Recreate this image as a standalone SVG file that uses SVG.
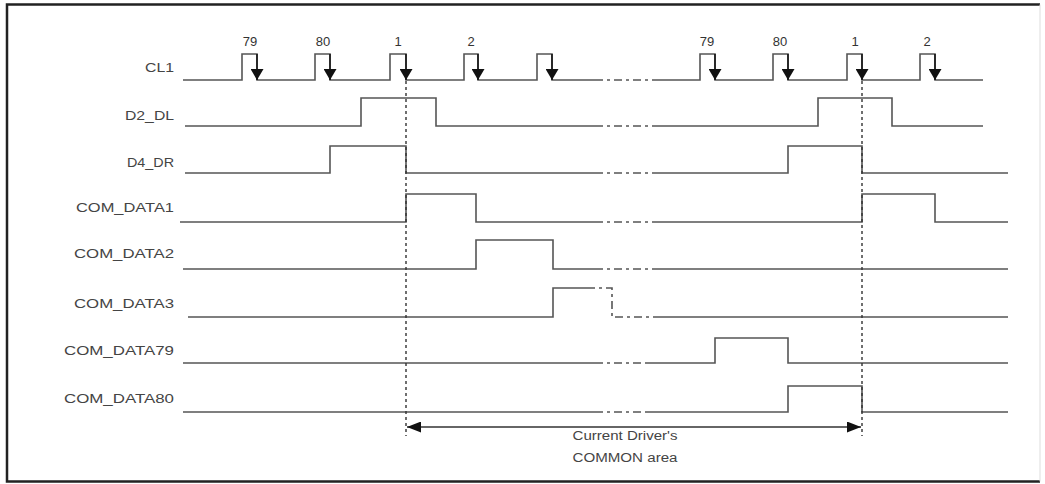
<svg xmlns="http://www.w3.org/2000/svg" width="1045" height="484" viewBox="0 0 1045 484">
<style>
.frame{fill:none;stroke:#222;stroke-width:2.5}
.sig{fill:none;stroke:#555;stroke-width:1.6;stroke-linejoin:miter}
.brk{fill:none;stroke:#555;stroke-width:1.6;stroke-dasharray:8 4 3 4}
.guide{fill:none;stroke:#333;stroke-width:1.4;stroke-dasharray:3 3}
.clkl{fill:none;stroke:#111;stroke-width:1.5}
.lbl{font-family:"Liberation Sans",Arial,sans-serif;font-size:13px;fill:#444;text-anchor:end}
.num{font-family:"Liberation Sans",Arial,sans-serif;font-size:13px;fill:#333;text-anchor:middle}
.note{font-family:"Liberation Sans",Arial,sans-serif;font-size:12.5px;fill:#444;text-anchor:middle}
</style>
<defs>
<marker id="clk" markerWidth="11" markerHeight="13" refX="11" refY="6.5" orient="auto" markerUnits="userSpaceOnUse">
<path d="M0,0 L11,6.5 L0,13 Z" fill="#111"/>
</marker>
<marker id="ah" markerWidth="14" markerHeight="11" refX="14" refY="5.5" orient="auto-start-reverse" markerUnits="userSpaceOnUse">
<path d="M0,0 L14,5.5 L0,11 Z" fill="#111"/>
</marker>
</defs>
<rect width="1045" height="484" fill="#fff"/>
<g id="frame">
<path class="frame" d="M1040,4.5 H7 V481.5 H1040"/>
<line x1="1040" y1="4.5" x2="1040" y2="481.5" stroke="#ddd" stroke-width="1"/>
</g>

<g id="CL1">
<text class="lbl" x="174" y="72" textLength="29" lengthAdjust="spacingAndGlyphs">CL1</text>
<path class="sig" d="M183,80 H242 V54 H257 V80 H315 V54 H330 V80 H390 V54 H406 V80 H464 V54 H478 V80 H537 V54 H552 V80 H595"/>
<path class="brk" d="M595,80 H655"/>
<path class="sig" d="M655,80 H700 V54 H715 V80 H773 V54 H788 V80 H847 V54 H862 V80 H920 V54 H935 V80 H983"/>
<g class="clkl">
<line x1="257" y1="54" x2="257" y2="80" marker-end="url(#clk)"/>
<line x1="330" y1="54" x2="330" y2="80" marker-end="url(#clk)"/>
<line x1="406" y1="54" x2="406" y2="80" marker-end="url(#clk)"/>
<line x1="478" y1="54" x2="478" y2="80" marker-end="url(#clk)"/>
<line x1="552" y1="54" x2="552" y2="80" marker-end="url(#clk)"/>
<line x1="715" y1="54" x2="715" y2="80" marker-end="url(#clk)"/>
<line x1="788" y1="54" x2="788" y2="80" marker-end="url(#clk)"/>
<line x1="862" y1="54" x2="862" y2="80" marker-end="url(#clk)"/>
<line x1="935" y1="54" x2="935" y2="80" marker-end="url(#clk)"/>
</g>
<text class="num" x="250" y="46">79</text>
<text class="num" x="323" y="46">80</text>
<text class="num" x="398" y="46">1</text>
<text class="num" x="471" y="46">2</text>
<text class="num" x="707" y="46">79</text>
<text class="num" x="780" y="46">80</text>
<text class="num" x="855" y="46">1</text>
<text class="num" x="927" y="46">2</text>
</g>

<g id="D2_DL">
<text class="lbl" x="174" y="120" textLength="49" lengthAdjust="spacingAndGlyphs">D2_DL</text>
<path class="sig" d="M185,126 H361 V98 H436 V126 H595"/>
<path class="brk" d="M595,126 H655"/>
<path class="sig" d="M655,126 H818 V98 H892 V126 H983"/>
</g>

<g id="D4_DR">
<text class="lbl" x="174" y="167" textLength="47" lengthAdjust="spacingAndGlyphs">D4_DR</text>
<path class="sig" d="M185,173 H330 V146 H406 V173 H595"/>
<path class="brk" d="M595,173 H655"/>
<path class="sig" d="M655,173 H788 V146 H862 V173 H1008"/>
</g>

<g id="COM_DATA1">
<text class="lbl" x="174" y="212" textLength="98" lengthAdjust="spacingAndGlyphs">COM_DATA1</text>
<path class="sig" d="M180,222 H406 V194 H476 V222 H595"/>
<path class="brk" d="M595,222 H655"/>
<path class="sig" d="M655,222 H862 V194 H935 V222 H1008"/>
</g>

<g id="COM_DATA2">
<text class="lbl" x="174" y="258" textLength="100" lengthAdjust="spacingAndGlyphs">COM_DATA2</text>
<path class="sig" d="M183,269 H476 V240 H553 V269 H595"/>
<path class="brk" d="M595,269 H660"/>
<path class="sig" d="M660,269 H1008"/>
</g>

<g id="COM_DATA3">
<text class="lbl" x="174" y="308" textLength="100" lengthAdjust="spacingAndGlyphs">COM_DATA3</text>
<path class="sig" d="M188,317 H553 V288 H587"/>
<path class="brk" d="M587,288 H612 V317 H655"/>
<path class="sig" d="M655,317 H1008"/>
</g>

<g id="COM_DATA79">
<text class="lbl" x="174" y="355" textLength="110" lengthAdjust="spacingAndGlyphs">COM_DATA79</text>
<path class="sig" d="M183,363 H595"/>
<path class="brk" d="M595,363 H645"/>
<path class="sig" d="M645,363 H715 V338 H788 V363 H1008"/>
</g>

<g id="COM_DATA80">
<text class="lbl" x="174" y="403" textLength="110" lengthAdjust="spacingAndGlyphs">COM_DATA80</text>
<path class="sig" d="M183,412 H595"/>
<path class="brk" d="M595,412 H645"/>
<path class="sig" d="M645,412 H788 V386 H862 V412 H1008"/>
</g>

<g id="connectors">
<line class="guide" x1="406" y1="81" x2="406" y2="436"/>
<line class="guide" x1="862" y1="81" x2="862" y2="436"/>
<line x1="407" y1="427" x2="861" y2="427" stroke="#333" stroke-width="1.4" marker-start="url(#ah)" marker-end="url(#ah)"/>
</g>

<g id="area_label">
<text class="note" x="625" y="440" textLength="105" lengthAdjust="spacingAndGlyphs">Current Driver's</text>
<text class="note" x="625" y="462" textLength="105" lengthAdjust="spacingAndGlyphs">COMMON area</text>
</g>
</svg>
